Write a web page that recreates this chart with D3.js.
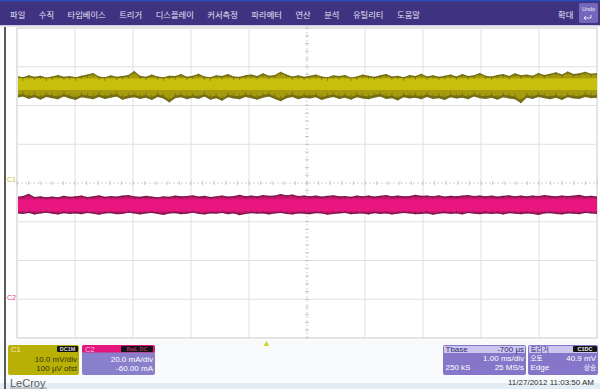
<!DOCTYPE html>
<html><head><meta charset="utf-8">
<script src="https://cdn.jsdelivr.net/npm/d3@7"></script>
<style>body{margin:0;background:#fff}svg{display:block}</style>
</head><body><svg id="scope" width="600" height="389"></svg>
<script>
// ---- menu ----
const menuItems = ["파일","수직","타임베이스","트리거","디스플레이","커서측정","파라메터","연산","분석","유틸리티","도움말"];

// ---- channel settings ----
const c1MvPerDiv = 10.0, c1OffsetMv = 0.1;      // 10.0 mV/div, 100 µV ofst
const c2MaPerDiv = 20.0, c2OffsetMa = -60.0;    // 20.0 mA/div, -60.00 mA
const timeStartMs = -4.3, timeSpanMs = 10.0;    // 1.00 ms/div, Tbase -700 µs

// ---- C1 (mV): per-bucket max / min and rms core ----
const c1Hi = [
27.5,27.2,27.7,27.3,27.6,27.1,27.4,27.8,27.3,27.5,
27.2,27.6,27.9,28.3,27.4,27.2,27.7,27.3,27.5,27.8,
28.8,27.6,27.3,27.9,27.4,27.2,27.6,27.5,28.0,27.3,
27.6,28.1,27.4,27.2,27.7,27.5,28.0,27.4,27.3,27.7,
27.9,27.5,28.2,27.6,27.8,28.6,27.9,27.4,27.7,27.3,
27.6,27.9,27.4,27.2,27.7,27.5,27.8,27.1,27.4,27.9,
27.6,27.3,27.7,28.0,27.4,27.6,27.2,27.8,27.5,28.1,
27.4,27.7,27.3,27.6,27.9,27.4,28.0,27.5,27.7,28.3,
27.6,27.4,27.8,28.0,27.5,28.2,27.7,27.9,27.6,28.3,
27.8,28.1,28.5,27.9,28.7,28.0,28.2,28.6,28.1,28.3];
const c1Lo = [
21.9,22.2,21.6,22.0,21.4,22.1,21.8,21.5,22.2,21.7,
21.3,22.0,21.8,21.5,22.1,21.6,21.9,22.2,21.4,21.8,
22.0,21.6,21.9,21.3,22.1,21.7,20.7,21.8,22.0,21.5,
21.9,21.6,22.2,21.4,21.8,21.1,22.0,21.7,21.5,22.1,
21.8,21.4,21.9,22.2,21.6,21.0,21.8,22.1,21.5,21.9,
21.7,22.0,21.3,21.8,22.1,21.6,21.9,21.4,22.0,21.7,
21.5,21.9,22.2,21.6,21.8,21.2,22.0,21.7,21.9,21.5,
22.1,21.6,21.8,21.3,22.0,21.7,21.9,21.5,22.2,21.8,
21.6,21.9,21.4,22.0,21.7,21.5,20.5,21.9,21.6,22.1,
21.8,21.5,21.9,21.3,22.0,21.7,21.6,22.1,21.8,21.9];
const c1Core = [23.9, 26.9];

// ---- C2 (mA): per-bucket max / min and rms core ----
const c2Hi = [
52.9,53.3,54.4,52.8,53.1,52.6,53.0,52.7,53.4,52.9,
53.2,53.6,52.8,53.1,53.7,52.9,53.3,53.0,53.5,53.8,
53.1,52.9,53.4,53.0,52.7,53.2,52.9,53.5,53.1,53.3,
53.7,53.0,53.4,52.8,53.2,53.6,53.0,53.3,53.9,53.2,
53.5,53.1,53.8,53.4,53.6,54.3,53.7,54.1,53.3,53.6,
53.2,53.5,53.0,53.4,53.7,53.1,53.3,52.9,53.5,53.2,
53.6,53.0,53.4,53.8,53.2,53.5,53.1,53.3,53.9,53.4,
53.6,53.2,53.7,53.0,53.4,53.1,53.5,53.8,53.3,53.6,
53.2,53.5,53.0,53.4,53.7,53.2,53.5,53.1,53.6,53.3,
53.8,53.4,53.1,53.6,53.3,53.5,53.9,53.2,53.4,53.0];
const c2Lo = [
44.3,44.0,44.5,43.8,44.2,44.6,44.1,43.7,44.4,44.0,
44.3,43.9,44.5,44.1,43.6,44.2,44.4,43.9,44.0,44.6,
44.2,43.8,44.3,44.5,44.0,43.5,44.2,44.4,43.9,44.1,
44.6,44.0,43.7,44.3,44.1,44.5,43.9,44.2,43.4,44.0,
44.4,44.1,44.3,43.8,44.2,44.5,44.0,43.7,44.3,44.1,
43.9,44.4,44.2,43.6,44.0,44.3,44.5,43.9,44.1,44.2,
43.8,44.4,44.0,44.3,43.7,44.1,44.5,44.2,43.9,44.0,
44.3,43.6,44.1,44.4,44.0,44.2,43.8,44.5,44.1,43.9,
44.3,44.0,44.2,43.7,44.4,44.1,43.9,44.3,44.0,43.5,
44.2,44.4,44.0,43.8,44.3,44.1,43.9,44.5,44.2,44.0];
const c2Core = [45.4, 51.6];

// ---- readout panels ----
const c1Readout = ["10.0 mV/div", "100 µV ofst"];
const c2Readout = ["20.0 mA/div", "-60.00 mA"];
const tbaseRows = [["Tbase", "-700 µs"], ["", "1.00 ms/div"], ["250 kS", "25 MS/s"]];
const trigRows = [["트리거", ""], ["오토", "40.9 mV"], ["Edge", "상승"]];
const timestamp = "11/27/2012 11:03:50 AM";

const svg = d3.select("#scope");
const W = 600, H = 389;
const grid = {l: 17, r: 597, t: 28, b: 338};
const FONT = "'Liberation Sans', Arial, 'Noto Sans CJK KR', sans-serif";
const KFONT = "'Noto Sans CJK KR', 'Liberation Sans', sans-serif";
const hangul = /[가-힣]/;

// background
svg.append("rect").attr("width", W).attr("height", H).attr("fill", "#ffffff");
svg.append("rect").attr("x", 0).attr("y", 340).attr("width", W).attr("height", 43).attr("fill", "#f8fafc");
svg.append("rect").attr("x", 0).attr("y", 383).attr("width", W).attr("height", 6).attr("fill", "#e3edf5");

// menu bar
svg.append("rect").attr("width", W).attr("height", 25).attr("fill", "#3f3281");
svg.append("rect").attr("width", W).attr("height", 1.5).attr("fill", "#2b4bb3");
svg.append("rect").attr("y", 25).attr("width", W).attr("height", 1.5).attr("fill", "#cfcbe0");
const menuG = svg.append("g").attr("font-family", KFONT).attr("font-size", 8.3).attr("fill", "#e6e2f4");
let mx = 10;
menuItems.forEach(label => {
  const t = menuG.append("text").attr("x", mx).attr("y", 17.5).text(label);
  mx += t.node().getComputedTextLength() + 13.5;
});
menuG.append("text").attr("x", 558).attr("y", 17.5).text("확대");
svg.append("rect").attr("x", 579).attr("y", 3).attr("width", 19).attr("height", 20).attr("rx", 1.5).attr("fill", "#7466bb");
svg.append("text").attr("x", 588.5).attr("y", 11).attr("text-anchor", "middle").attr("font-family", FONT)
  .attr("font-size", 5.5).attr("fill", "#f0eefa").text("Undo");
svg.append("path").attr("d", "M584,18 h7 v-3 M584,18 l2,-2 M584,18 l2,2").attr("fill", "none")
  .attr("stroke", "#f0eefa").attr("stroke-width", 0.9);

// left frame bar
svg.append("rect").attr("x", 4).attr("y", 27).attr("width", 2).attr("height", H - 27).attr("fill", "#5a5a5a");

// scales
const divX = d3.scaleLinear().domain([0, 10]).range([grid.l, grid.r]);
const divY = d3.scaleLinear().domain([-4, 4]).range([grid.b, grid.t]);
const timeX = d3.scaleLinear().domain([timeStartMs, timeStartMs + timeSpanMs]).range([grid.l, grid.r]);
const c1Y = d3.scaleLinear().domain([-4 * c1MvPerDiv - c1OffsetMv, 4 * c1MvPerDiv - c1OffsetMv]).range([grid.b, grid.t]);
const c2Y = d3.scaleLinear().domain([-4 * c2MaPerDiv - c2OffsetMa, 4 * c2MaPerDiv - c2OffsetMa]).range([grid.b, grid.t]);

// graticule
const g = svg.append("g");
g.append("rect").attr("x", grid.l).attr("y", grid.t).attr("width", grid.r - grid.l).attr("height", grid.b - grid.t)
  .attr("fill", "#ffffff").attr("stroke", "#c9c9c9").attr("stroke-width", 1);
g.selectAll(".vg").data(d3.range(1, 10).filter(d => d !== 5)).join("line")
  .attr("x1", d => divX(d)).attr("x2", d => divX(d)).attr("y1", grid.t).attr("y2", grid.b)
  .attr("stroke", "#e0e0e0").attr("stroke-width", 1);
g.selectAll(".hg").data(d3.range(-3, 4).filter(d => d !== 0)).join("line")
  .attr("x1", grid.l).attr("x2", grid.r).attr("y1", d => divY(d)).attr("y2", d => divY(d))
  .attr("stroke", "#e0e0e0").attr("stroke-width", 1);
// centre axes with minor ticks
g.append("line").attr("x1", divX(5)).attr("x2", divX(5)).attr("y1", grid.t).attr("y2", grid.b)
  .attr("stroke", "#d2d2d2").attr("stroke-dasharray", "2,2");
g.append("line").attr("x1", grid.l).attr("x2", grid.r).attr("y1", divY(0)).attr("y2", divY(0))
  .attr("stroke", "#d2d2d2").attr("stroke-dasharray", "2,2");
g.selectAll(".xt").data(d3.range(0, 50.01, 1)).join("line")
  .attr("x1", d => divX(d / 5)).attr("x2", d => divX(d / 5))
  .attr("y1", divY(0) - 2).attr("y2", divY(0) + 2).attr("stroke", "#bdbdbd").attr("stroke-width", 0.8);
g.selectAll(".yt").data(d3.range(-20, 20.01, 1)).join("line")
  .attr("y1", d => divY(d / 5)).attr("y2", d => divY(d / 5))
  .attr("x1", divX(5) - 2).attr("x2", divX(5) + 2).attr("stroke", "#bdbdbd").attr("stroke-width", 0.8);

// traces
const defs = svg.append("defs");
defs.append("clipPath").attr("id", "gclip").append("rect")
  .attr("x", grid.l + 1).attr("y", grid.t).attr("width", grid.r - grid.l - 1).attr("height", grid.b - grid.t);
defs.append("filter").attr("id", "soft").attr("x", "-2%").attr("y", "-50%").attr("width", "104%").attr("height", "200%")
  .append("feGaussianBlur").attr("stdDeviation", "0.5,0.35");
const traces = svg.append("g").attr("clip-path", "url(#gclip)").append("g").attr("filter", "url(#soft)");
const n = c1Hi.length;
const sampleT = i => timeStartMs + i * timeSpanMs / (n - 1);

function drawTrace(hi, lo, core, yScale, cols, inset) {
  const rows = hi.map((h, i) => ({t: sampleT(i), hi: h, lo: lo[i]}));
  const outer = d3.area().x(d => timeX(d.t)).y0(d => yScale(d.lo)).y1(d => yScale(d.hi));
  traces.append("path").datum(rows).attr("d", outer).attr("fill", cols.edge);
  const inner = d3.area().x(d => timeX(d.t)).y0(d => yScale(d.lo + inset[1])).y1(d => yScale(d.hi - inset[0]));
  traces.append("path").datum(rows).attr("d", inner).attr("fill", cols.mid);
  traces.append("rect").attr("x", grid.l).attr("width", grid.r - grid.l)
    .attr("y", yScale(core[1])).attr("height", yScale(core[0]) - yScale(core[1]))
    .attr("fill", cols.core);
  // sample hairlines give the band its streaky texture
  traces.selectAll(null).data(rows).join("line")
    .attr("x1", d => timeX(d.t)).attr("x2", d => timeX(d.t))
    .attr("y1", d => yScale(d.hi)).attr("y2", d => yScale(d.hi - inset[0] - 0.5))
    .attr("stroke", cols.edge).attr("stroke-width", 0.8);
  traces.selectAll(null).data(rows).join("line")
    .attr("x1", d => timeX(d.t)).attr("x2", d => timeX(d.t))
    .attr("y1", d => yScale(d.lo)).attr("y2", d => yScale(d.lo + inset[1] + 0.6))
    .attr("stroke", cols.edge).attr("stroke-width", 0.8);
}
drawTrace(c1Hi, c1Lo, c1Core, c1Y, {edge: "#736d14", mid: "#a59b08", core: "#c8bf0c"}, [0.4, 0.7]);
drawTrace(c2Hi, c2Lo, c2Core, c2Y, {edge: "#7b1a4b", mid: "#c8166f", core: "#e8187e"}, [0.7, 0.7]);

// ground markers
svg.append("text").attr("x", 7).attr("y", c1Y(0) - 1).attr("font-family", FONT).attr("font-size", 7)
  .attr("fill", "#c9c21a").text("C1");
svg.append("text").attr("x", 7).attr("y", c2Y(0) + 1).attr("font-family", FONT).attr("font-size", 7)
  .attr("fill", "#e0368a").text("C2");

// trigger position marker
const tx = timeX(0);
svg.append("path").attr("d", `M${tx},341 L${tx + 3},346 L${tx - 3},346 Z`).attr("fill", "#cfd630");

// readout boxes
const boxY = 345, boxH = 30;
function tag(x, y, w, label, col) {
  svg.append("rect").attr("x", x).attr("y", y).attr("width", w).attr("height", 6).attr("rx", 1).attr("fill", "#141414");
  svg.append("text").attr("x", x + w / 2).attr("y", y + 5).attr("text-anchor", "middle").attr("font-family", FONT)
    .attr("font-size", 5.5).attr("font-weight", "bold").attr("fill", col).text(label);
}
// C1
svg.append("rect").attr("x", 8).attr("y", boxY).attr("width", 71).attr("height", boxH).attr("rx", 2).attr("fill", "#b8b004");
svg.append("text").attr("x", 11).attr("y", 351.5).attr("font-family", FONT).attr("font-size", 7.5).attr("fill", "#f3eec0").text("C1");
tag(57, 346, 21, "DC1M", "#d8d8d8");
c1Readout.forEach((s, i) => svg.append("text").attr("x", 77).attr("y", 362 + i * 9).attr("text-anchor", "end")
  .attr("font-family", FONT).attr("font-size", 8).attr("fill", "#34330a").text(s));
// C2
svg.append("rect").attr("x", 82).attr("y", boxY).attr("width", 73).attr("height", boxH).attr("rx", 2).attr("fill", "#8a7fcb");
svg.append("rect").attr("x", 82).attr("y", boxY).attr("width", 73).attr("height", 7.5).attr("rx", 2).attr("fill", "#e4167d");
svg.append("text").attr("x", 85).attr("y", 351.5).attr("font-family", FONT).attr("font-size", 7.5).attr("fill", "#ffc4e0").text("C2");
tag(121, 346, 32, "BwL DC", "#b0306e");
c2Readout.forEach((s, i) => svg.append("text").attr("x", 153).attr("y", 362 + i * 9).attr("text-anchor", "end")
  .attr("font-family", FONT).attr("font-size", 8).attr("fill", "#ffffff").text(s));
// timebase and trigger panels
function panel(x, w, rows, tagLabel) {
  svg.append("rect").attr("x", x).attr("y", boxY).attr("width", w).attr("height", boxH).attr("rx", 2).attr("fill", "#8576c9");
  svg.append("rect").attr("x", x + 1).attr("y", boxY + 1).attr("width", w - 2).attr("height", 7).attr("fill", "#cdc6ef");
  rows.forEach((r, i) => {
    const y = 351.5 + i * 9.3;
    const col = i === 0 ? "#2e2670" : "#ffffff";
    r.forEach((s, j) => {
      if (!s) return;
      const k = hangul.test(s);
      svg.append("text").attr("x", j === 0 ? x + 2.5 : x + w - 2).attr("y", y)
        .attr("text-anchor", j === 0 ? "start" : "end")
        .attr("font-family", k ? KFONT : FONT).attr("font-size", k ? 6.6 : 8)
        .attr("fill", col).text(s);
    });
  });
  if (tagLabel) tag(x + w - 25, 346, 24, tagLabel, "#f0f0f0");
}
panel(443, 83, tbaseRows, null);
panel(528, 70, trigRows, "C1DC");

// footer
svg.append("text").attr("x", 10).attr("y", 387).attr("font-family", FONT).attr("font-size", 11)
  .attr("fill", "#5b5b5b").text("LeCroy");
svg.append("line").attr("x1", 10).attr("x2", 47).attr("y1", 388).attr("y2", 388).attr("stroke", "#7a7a7a").attr("stroke-width", 0.7);
svg.append("text").attr("x", 594).attr("y", 384.5).attr("text-anchor", "end").attr("font-family", FONT)
  .attr("font-size", 8).attr("fill", "#2d2d2d").text(timestamp);
</script></body></html>
